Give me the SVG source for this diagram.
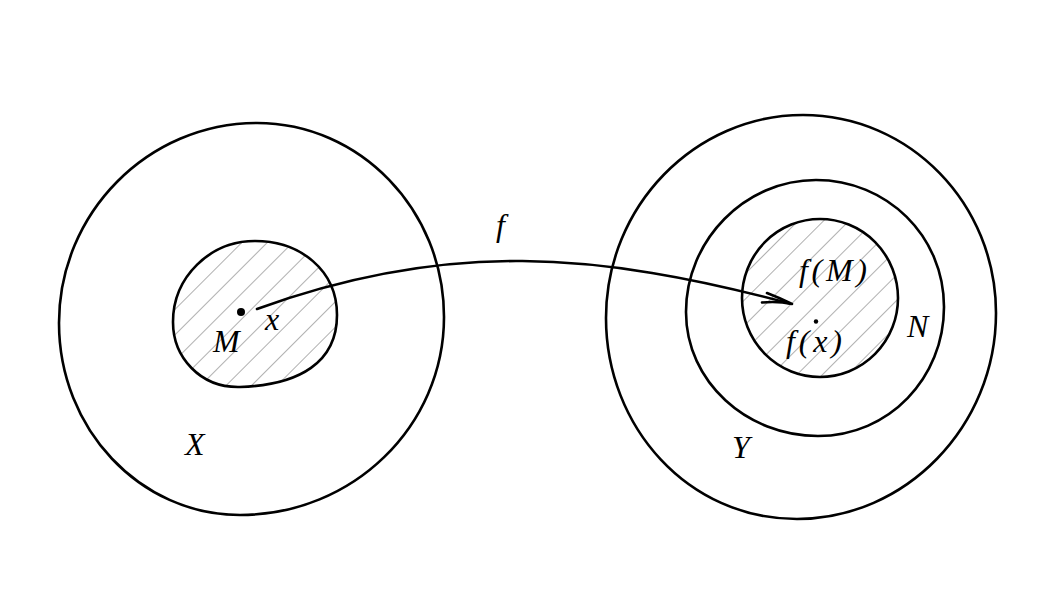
<svg xmlns="http://www.w3.org/2000/svg" width="1063" height="601" viewBox="0 0 1063 601">
  <style>
    .outline { fill: none; stroke: #000; stroke-width: 2.6; }
    .hatched { fill: url(#hatch); stroke: #000; stroke-width: 2.6; }
    .lbl { font-family: "Liberation Serif", "DejaVu Serif", serif; font-style: italic; font-size: 32px; fill: #000; }
    .conn { fill: none; stroke: #000; stroke-width: 2.6; stroke-linecap: round; }
  </style>
  <defs>
    <pattern id="hatch" patternUnits="userSpaceOnUse" width="18" height="18" patternTransform="rotate(45)">
      <line x1="0" y1="0" x2="0" y2="18" stroke="#7a7a7a" stroke-width="1.2"/>
    </pattern>
  </defs>
  <rect width="1063" height="601" fill="#fff"/>

  <g id="X">
    <path class="outline" d="M257,123 C360,123 444,210 444,317 C444,426 353,515 240,515 C140,515 59,429 59,323 C59,213 148,123 257,123 Z"/>
    <text class="lbl" x="185" y="455">X</text>
  </g>

  <g id="M">
    <path class="hatched" d="M255,241 C300,241 337,270 337,315 C337,362 300,385 240,387 C200,388 173,357 173,322 C173,277 210,241 255,241 Z"/>
    <circle cx="241" cy="312" r="4" fill="#000"/>
    <text class="lbl" x="213" y="352">M</text>
    <text class="lbl" x="265" y="330">x</text>
  </g>

  <g id="Y">
    <path class="outline" d="M803,115 C910,115 996,204 996,313 C996,427 905,519 797,519 C688,519 606,427 606,318 C606,206 695,115 803,115 Z"/>
    <text class="lbl" x="732" y="458">Y</text>
  </g>

  <g id="N">
    <path class="outline" d="M816,180 C887,180 944,236 944,307 C944,378 889,436 818,436 C747,436 686,382 686,312 C686,240 745,180 816,180 Z"/>
    <text class="lbl" x="907" y="337">N</text>
  </g>

  <g id="fM">
    <ellipse class="hatched" cx="820" cy="298" rx="78" ry="79"/>
    <text class="lbl" x="799" y="281" textLength="68" lengthAdjust="spacing">f(M)</text>
    <circle cx="816" cy="321.5" r="2.2" fill="#000"/>
    <text class="lbl" x="786" y="352" textLength="56" lengthAdjust="spacing">f(x)</text>
  </g>

  <g id="connectors">
    <path class="conn" d="M257,309 C447,240 597,252 790,303.5"/>
    <path class="conn" d="M762,302.5 Q778,301 792,304 M767,293 Q780,298 792,304"/>
    <text class="lbl" x="496" y="236">f</text>
  </g>
</svg>
